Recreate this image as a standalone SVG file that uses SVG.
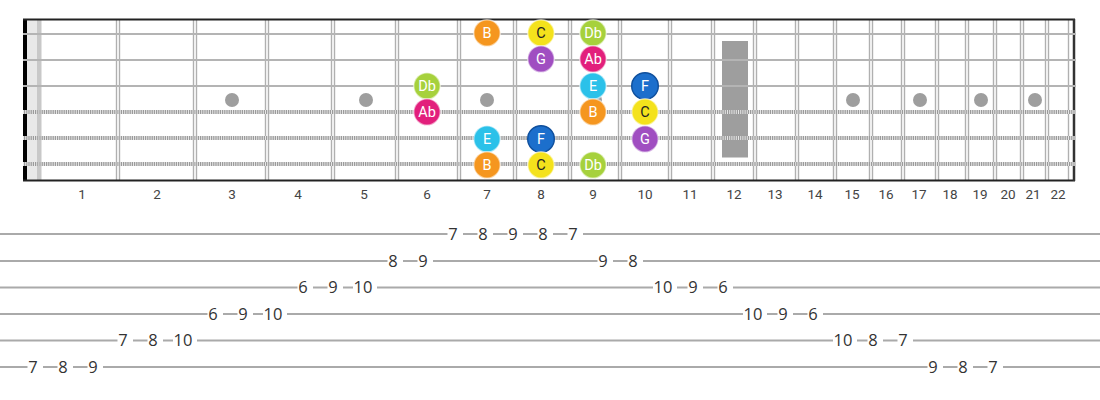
<svg xmlns="http://www.w3.org/2000/svg" width="1100" height="400" viewBox="0 0 1100 400">
<style>
.fret{stroke:#b0b0b0;stroke-width:1.4}
.plain{stroke:#b4b4b4;stroke-width:2.2}
.wbase{stroke:#9a9a9a;stroke-width:4}
.wtex{stroke:#e6e6e6;stroke-width:4;stroke-dasharray:1 1.2}
.dot{fill:#9e9e9e}
.fn{font-family:Roboto,"Liberation Sans",sans-serif;font-size:13.5px;fill:#444;text-anchor:middle}
.nl{font-family:Roboto,"Liberation Sans",sans-serif;font-size:14.5px;fill:#fff;text-anchor:middle}
.nd{fill:#222}
.ring{stroke:#fff;stroke-opacity:0.55;stroke-width:1.6}
.tl{stroke:#aaa;stroke-width:2}
.td{font-family:"Open Sans","Noto Sans",sans-serif;font-size:16.5px;fill:#333;text-anchor:middle}
.bg{fill:#fff}
.B{fill:#f5961f}.C{fill:#f4e21c}.Db{fill:#a6d13c}.G{fill:#a04ec1}.Ab{fill:#e21f7c}.E{fill:#2bc1e9}.F{fill:#1c6fcc}
</style>
<rect width="1100" height="400" fill="#fff"/>
<g id="fretboard">
<rect x="27" y="20" width="10" height="160" fill="#e8e8e8"/>
<rect x="37" y="20" width="4.5" height="160" fill="#c8c8c8"/>
<rect x="722" y="41" width="26" height="116.5" class="dot"/>
<g id="frets">
<line class="fret" x1="116.5" y1="20" x2="116.5" y2="180"/><line class="fret" x1="119.5" y1="20" x2="119.5" y2="180"/>
<line class="fret" x1="193.5" y1="20" x2="193.5" y2="180"/><line class="fret" x1="196.5" y1="20" x2="196.5" y2="180"/>
<line class="fret" x1="265.5" y1="20" x2="265.5" y2="180"/><line class="fret" x1="268.5" y1="20" x2="268.5" y2="180"/>
<line class="fret" x1="331.5" y1="20" x2="331.5" y2="180"/><line class="fret" x1="334.5" y1="20" x2="334.5" y2="180"/>
<line class="fret" x1="395.5" y1="20" x2="395.5" y2="180"/><line class="fret" x1="398.5" y1="20" x2="398.5" y2="180"/>
<line class="fret" x1="457.5" y1="20" x2="457.5" y2="180"/><line class="fret" x1="460.5" y1="20" x2="460.5" y2="180"/>
<line class="fret" x1="513.5" y1="20" x2="513.5" y2="180"/><line class="fret" x1="516.5" y1="20" x2="516.5" y2="180"/>
<line class="fret" x1="568.5" y1="20" x2="568.5" y2="180"/><line class="fret" x1="571.5" y1="20" x2="571.5" y2="180"/>
<line class="fret" x1="618.5" y1="20" x2="618.5" y2="180"/><line class="fret" x1="621.5" y1="20" x2="621.5" y2="180"/>
<line class="fret" x1="668.5" y1="20" x2="668.5" y2="180"/><line class="fret" x1="671.5" y1="20" x2="671.5" y2="180"/>
<line class="fret" x1="711.5" y1="20" x2="711.5" y2="180"/><line class="fret" x1="714.5" y1="20" x2="714.5" y2="180"/>
<line class="fret" x1="753.5" y1="20" x2="753.5" y2="180"/><line class="fret" x1="756.5" y1="20" x2="756.5" y2="180"/>
<line class="fret" x1="795.5" y1="20" x2="795.5" y2="180"/><line class="fret" x1="798.5" y1="20" x2="798.5" y2="180"/>
<line class="fret" x1="833.5" y1="20" x2="833.5" y2="180"/><line class="fret" x1="836.5" y1="20" x2="836.5" y2="180"/>
<line class="fret" x1="869.5" y1="20" x2="869.5" y2="180"/><line class="fret" x1="872.5" y1="20" x2="872.5" y2="180"/>
<line class="fret" x1="901.5" y1="20" x2="901.5" y2="180"/><line class="fret" x1="904.5" y1="20" x2="904.5" y2="180"/>
<line class="fret" x1="935.5" y1="20" x2="935.5" y2="180"/><line class="fret" x1="938.5" y1="20" x2="938.5" y2="180"/>
<line class="fret" x1="965.5" y1="20" x2="965.5" y2="180"/><line class="fret" x1="968.5" y1="20" x2="968.5" y2="180"/>
<line class="fret" x1="993.5" y1="20" x2="993.5" y2="180"/><line class="fret" x1="996.5" y1="20" x2="996.5" y2="180"/>
<line class="fret" x1="1020.5" y1="20" x2="1020.5" y2="180"/><line class="fret" x1="1023.5" y1="20" x2="1023.5" y2="180"/>
<line class="fret" x1="1045.5" y1="20" x2="1045.5" y2="180"/><line class="fret" x1="1048.5" y1="20" x2="1048.5" y2="180"/>
<line class="fret" x1="1068.5" y1="20" x2="1068.5" y2="180"/>
</g>
<g id="inlays">
<circle class="dot" cx="232" cy="100" r="7"/>
<circle class="dot" cx="366" cy="100" r="7"/>
<circle class="dot" cx="487" cy="100" r="7"/>
<circle class="dot" cx="595" cy="100" r="7"/>
<circle class="dot" cx="853" cy="100" r="7"/>
<circle class="dot" cx="920" cy="100" r="7"/>
<circle class="dot" cx="981" cy="100" r="7"/>
<circle class="dot" cx="1035" cy="100" r="7"/>
</g>
<rect x="23" y="19" width="4" height="162" fill="#000"/>
<line x1="23" y1="19.5" x2="1075" y2="19.5" stroke="#222" stroke-width="2"/>
<line x1="23" y1="180.5" x2="1075" y2="180.5" stroke="#222" stroke-width="2"/>
<line x1="1074" y1="19" x2="1074" y2="181" stroke="#333" stroke-width="2.5"/>
<g id="strings">
<line class="plain" x1="23" y1="34" x2="1076" y2="34"/>
<line class="plain" x1="23" y1="60" x2="1076" y2="60"/>
<line class="plain" x1="23" y1="86" x2="1076" y2="86"/>
<line class="wbase" x1="23" y1="112" x2="1076" y2="112"/><line class="wtex" x1="23" y1="112" x2="1076" y2="112"/>
<line class="wbase" x1="23" y1="138" x2="1076" y2="138"/><line class="wtex" x1="23" y1="138" x2="1076" y2="138"/>
<line class="wbase" x1="23" y1="164" x2="1076" y2="164"/><line class="wtex" x1="23" y1="164" x2="1076" y2="164"/>
</g>
</g>
<g id="fret-numbers">
<text class="fn" x="82" y="198.7">1</text><text class="fn" x="157" y="198.7">2</text><text class="fn" x="232" y="198.7">3</text><text class="fn" x="298" y="198.7">4</text><text class="fn" x="364" y="198.7">5</text><text class="fn" x="427" y="198.7">6</text><text class="fn" x="487" y="198.7">7</text><text class="fn" x="541" y="198.7">8</text><text class="fn" x="593" y="198.7">9</text><text class="fn" x="645" y="198.7">10</text><text class="fn" x="690" y="198.7">11</text><text class="fn" x="734" y="198.7">12</text><text class="fn" x="775" y="198.7">13</text><text class="fn" x="815" y="198.7">14</text><text class="fn" x="852" y="198.7">15</text><text class="fn" x="886" y="198.7">16</text><text class="fn" x="919" y="198.7">17</text><text class="fn" x="950" y="198.7">18</text><text class="fn" x="980" y="198.7">19</text><text class="fn" x="1008" y="198.7">20</text><text class="fn" x="1033" y="198.7">21</text><text class="fn" x="1058" y="198.7">22</text>
</g>
<g id="notes">
<g id="n1-7"><circle class="B ring" cx="487" cy="33" r="13.3"/><text class="nl" x="487" y="38.2">B</text></g>
<g id="n1-8"><circle class="C ring" cx="541" cy="33" r="13.3"/><text class="nl nd" x="541" y="38.2">C</text></g>
<g id="n1-9"><circle class="Db ring" cx="593" cy="33" r="13.3"/><text class="nl" x="593" y="38.2">Db</text></g>
<g id="n2-8"><circle class="G ring" cx="541" cy="59" r="13.3"/><text class="nl" x="541" y="64.2">G</text></g>
<g id="n2-9"><circle class="Ab ring" cx="593" cy="59" r="13.3"/><text class="nl" x="593" y="64.2">Ab</text></g>
<g id="n3-6"><circle class="Db ring" cx="427" cy="86" r="13.3"/><text class="nl" x="427" y="91.2">Db</text></g>
<g id="n3-9"><circle class="E ring" cx="593" cy="86" r="13.3"/><text class="nl" x="593" y="91.2">E</text></g>
<g id="n3-10"><circle class="F" cx="645" cy="86" r="13.3" stroke="#0f4f9c" stroke-width="1.4"/><text class="nl" x="645" y="91.2">F</text></g>
<g id="n4-6"><circle class="Ab ring" cx="427" cy="112" r="13.3"/><text class="nl" x="427" y="117.2">Ab</text></g>
<g id="n4-9"><circle class="B ring" cx="593" cy="112" r="13.3"/><text class="nl" x="593" y="117.2">B</text></g>
<g id="n4-10"><circle class="C ring" cx="645" cy="112" r="13.3"/><text class="nl nd" x="645" y="117.2">C</text></g>
<g id="n5-7"><circle class="E ring" cx="487" cy="139" r="13.3"/><text class="nl" x="487" y="144.2">E</text></g>
<g id="n5-8"><circle class="F" cx="541" cy="139" r="13.3" stroke="#0f4f9c" stroke-width="1.4"/><text class="nl" x="541" y="144.2">F</text></g>
<g id="n5-10"><circle class="G ring" cx="645" cy="139" r="13.3"/><text class="nl" x="645" y="144.2">G</text></g>
<g id="n6-7"><circle class="B ring" cx="487" cy="165" r="13.3"/><text class="nl" x="487" y="170.2">B</text></g>
<g id="n6-8"><circle class="C ring" cx="541" cy="165" r="13.3"/><text class="nl nd" x="541" y="170.2">C</text></g>
<g id="n6-9"><circle class="Db ring" cx="593" cy="165" r="13.3"/><text class="nl" x="593" y="170.2">Db</text></g>
</g>
<g id="tab-lines">
<line class="tl" x1="0" y1="234" x2="1100" y2="234"/>
<line class="tl" x1="0" y1="261" x2="1100" y2="261"/>
<line class="tl" x1="0" y1="287.5" x2="1100" y2="287.5"/>
<line class="tl" x1="0" y1="314" x2="1100" y2="314"/>
<line class="tl" x1="0" y1="340.5" x2="1100" y2="340.5"/>
<line class="tl" x1="0" y1="367" x2="1100" y2="367"/>
</g>
<g id="tab-numbers">
<rect class="bg" x="27.5" y="358" width="15.5" height="18"/><text class="td" x="33" y="372.9">7</text>
<rect class="bg" x="57.5" y="358" width="15.5" height="18"/><text class="td" x="63" y="372.9">8</text>
<rect class="bg" x="87.5" y="358" width="15.5" height="18"/><text class="td" x="93" y="372.9">9</text>
<rect class="bg" x="117.5" y="331.5" width="15.5" height="18"/><text class="td" x="123" y="346.4">7</text>
<rect class="bg" x="147.5" y="331.5" width="15.5" height="18"/><text class="td" x="153" y="346.4">8</text>
<rect class="bg" x="173" y="331.5" width="24" height="18"/><text class="td" x="183" y="346.4">10</text>
<rect class="bg" x="207.5" y="305" width="15.5" height="18"/><text class="td" x="213" y="319.9">6</text>
<rect class="bg" x="237.5" y="305" width="15.5" height="18"/><text class="td" x="243" y="319.9">9</text>
<rect class="bg" x="263" y="305" width="24" height="18"/><text class="td" x="273" y="319.9">10</text>
<rect class="bg" x="297.5" y="278.5" width="15.5" height="18"/><text class="td" x="303" y="293.4">6</text>
<rect class="bg" x="327.5" y="278.5" width="15.5" height="18"/><text class="td" x="333" y="293.4">9</text>
<rect class="bg" x="353" y="278.5" width="24" height="18"/><text class="td" x="363" y="293.4">10</text>
<rect class="bg" x="387.5" y="252" width="15.5" height="18"/><text class="td" x="393" y="266.9">8</text>
<rect class="bg" x="417.5" y="252" width="15.5" height="18"/><text class="td" x="423" y="266.9">9</text>
<rect class="bg" x="447.5" y="225" width="15.5" height="18"/><text class="td" x="453" y="239.9">7</text>
<rect class="bg" x="477.5" y="225" width="15.5" height="18"/><text class="td" x="483" y="239.9">8</text>
<rect class="bg" x="507.5" y="225" width="15.5" height="18"/><text class="td" x="513" y="239.9">9</text>
<rect class="bg" x="537.5" y="225" width="15.5" height="18"/><text class="td" x="543" y="239.9">8</text>
<rect class="bg" x="567.5" y="225" width="15.5" height="18"/><text class="td" x="573" y="239.9">7</text>
<rect class="bg" x="597.5" y="252" width="15.5" height="18"/><text class="td" x="603" y="266.9">9</text>
<rect class="bg" x="627.5" y="252" width="15.5" height="18"/><text class="td" x="633" y="266.9">8</text>
<rect class="bg" x="653" y="278.5" width="24" height="18"/><text class="td" x="663" y="293.4">10</text>
<rect class="bg" x="687.5" y="278.5" width="15.5" height="18"/><text class="td" x="693" y="293.4">9</text>
<rect class="bg" x="717.5" y="278.5" width="15.5" height="18"/><text class="td" x="723" y="293.4">6</text>
<rect class="bg" x="743" y="305" width="24" height="18"/><text class="td" x="753" y="319.9">10</text>
<rect class="bg" x="777.5" y="305" width="15.5" height="18"/><text class="td" x="783" y="319.9">9</text>
<rect class="bg" x="807.5" y="305" width="15.5" height="18"/><text class="td" x="813" y="319.9">6</text>
<rect class="bg" x="833" y="331.5" width="24" height="18"/><text class="td" x="843" y="346.4">10</text>
<rect class="bg" x="867.5" y="331.5" width="15.5" height="18"/><text class="td" x="873" y="346.4">8</text>
<rect class="bg" x="897.5" y="331.5" width="15.5" height="18"/><text class="td" x="903" y="346.4">7</text>
<rect class="bg" x="927.5" y="358" width="15.5" height="18"/><text class="td" x="933" y="372.9">9</text>
<rect class="bg" x="957.5" y="358" width="15.5" height="18"/><text class="td" x="963" y="372.9">8</text>
<rect class="bg" x="987.5" y="358" width="15.5" height="18"/><text class="td" x="993" y="372.9">7</text>
</g>
</svg>
